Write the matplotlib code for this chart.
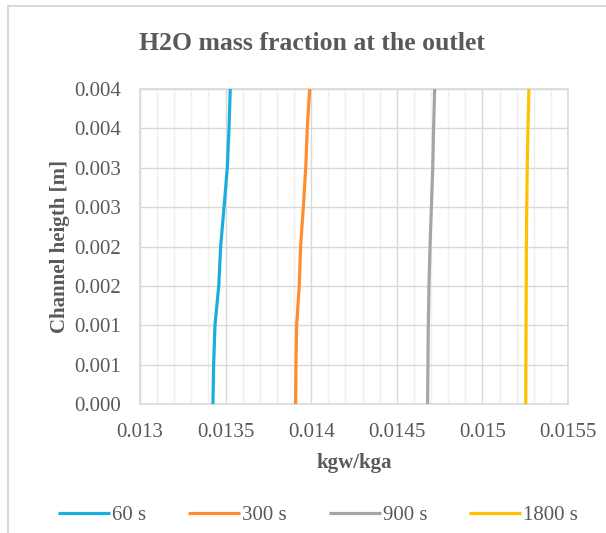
import numpy as np
import matplotlib
matplotlib.use("Agg")
import matplotlib.pyplot as plt
from matplotlib.ticker import MultipleLocator
from matplotlib.lines import Line2D

# channel height [m]
height = [0.0, 0.0005, 0.001, 0.0015, 0.002, 0.0025, 0.003, 0.0035, 0.004]

# H2O mass fraction at the outlet [kgw/kga]
frac_60 = [0.013426, 0.013430, 0.013438, 0.013460, 0.013471, 0.013491, 0.013510, 0.013520, 0.013527]
frac_300 = [0.013909, 0.013911, 0.013915, 0.013930, 0.013938, 0.013954, 0.013968, 0.013977, 0.013991]
frac_900 = [0.014680, 0.014682, 0.014684, 0.014688, 0.014694, 0.014702, 0.014710, 0.014715, 0.014721]
frac_1800 = [0.015253, 0.015254, 0.015255, 0.015256, 0.015257, 0.015259, 0.015262, 0.015266, 0.015272]

series_names = ["60 s", "300 s", "900 s", "1800 s"]
series_colors = ["#1AAEE0", "#FF8C2F", "#A5A5A5", "#FFC000"]

xtick_values = [0.013, 0.0135, 0.014, 0.0145, 0.015, 0.0155]
xtick_labels = ["0.013", "0.0135", "0.014", "0.0145", "0.015", "0.0155"]
ytick_values = [0.0, 0.0005, 0.001, 0.0015, 0.002, 0.0025, 0.003, 0.0035, 0.004]
ytick_labels = ["0.000", "0.001", "0.001", "0.002", "0.002", "0.003", "0.003", "0.004", "0.004"]

plt.rcParams["font.family"] = ["Liberation Serif", "DejaVu Serif"]
txt = "#595959"

W, H = 606, 533
fig = plt.figure(figsize=(W / 100, H / 100), dpi=100)

# chart area border (top and left visible)
fig.add_artist(Line2D([7.5 / W, 7.5 / W], [0, 1 - 6 / H], color="#d9d9d9", lw=1.5))
fig.add_artist(Line2D([7.5 / W, 1], [1 - 6 / H, 1 - 6 / H], color="#d9d9d9", lw=1.5))

ax = fig.add_axes([140 / W, (H - 404) / H, 428 / W, 315 / H])

for vals, name, col in zip([frac_60, frac_300, frac_900, frac_1800], series_names, series_colors):
    ax.plot(vals, height, color=col, lw=2.3, label=name, solid_capstyle="butt", zorder=3)

ax.set_xlim(0.013, 0.0155)
ax.set_ylim(0, 0.004)
ax.set_xticks(xtick_values)
ax.set_xticklabels(xtick_labels)
ax.set_yticks(ytick_values)
ax.set_yticklabels(ytick_labels)
ax.xaxis.set_minor_locator(MultipleLocator(0.0001))

ax.grid(which="minor", axis="x", color="#efefef", lw=1.0, zorder=0)
ax.grid(which="major", axis="both", color="#d9d9d9", lw=1.0, zorder=1)
ax.set_axisbelow(True)
for s in ax.spines.values():
    s.set_color("#d9d9d9")
    s.set_linewidth(1.2)

ax.tick_params(which="both", length=0, labelsize=15, colors=txt)
ax.tick_params(axis="y", pad=13.7)
ax.tick_params(axis="x", pad=13.5)

ax.set_xlabel("kgw/kga", fontsize=15, fontweight="bold", color=txt, labelpad=8)
ax.set_ylabel("Channel heigth [m]", fontsize=15, fontweight="bold", color=txt, labelpad=3)
fig.text(0.515, 1 - 43 / H, "H2O mass fraction at the outlet", ha="center", va="center",
         fontsize=18.5, fontweight="bold", color=txt)

leg = fig.legend(loc="center", bbox_to_anchor=(0.525, 1 - 515 / H), ncol=4, frameon=False,
                 fontsize=15, handlelength=2.5, handletextpad=0.1, columnspacing=2.0)
for t in leg.get_texts():
    t.set_color(txt)

fig.savefig("out.png", dpi=100)
